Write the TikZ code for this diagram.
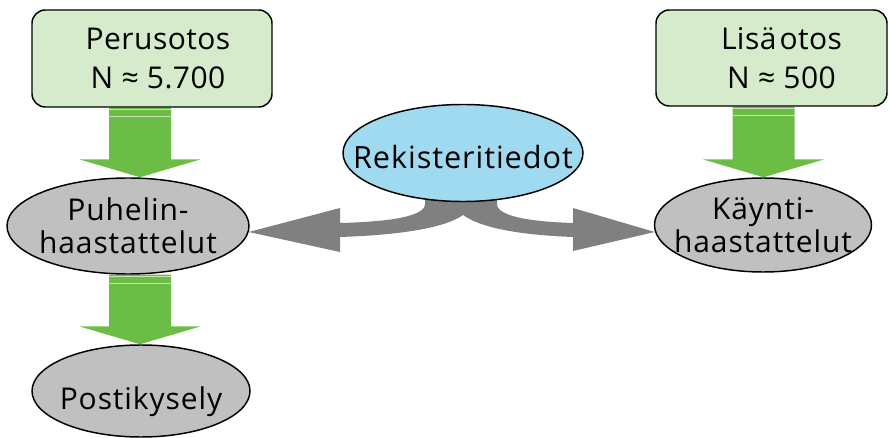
\documentclass[tikz,border=0pt]{standalone}
\usepackage{fontspec}
\setmainfont{Open Sans}
\usetikzlibrary{shapes.geometric,calc,backgrounds}
\definecolor{boxgreen}{RGB}{214,234,204}
\definecolor{arrgreen}{RGB}{108,189,69}
\definecolor{ellblue}{RGB}{160,218,240}
\definecolor{ellgray}{RGB}{192,192,192}
\definecolor{arrgray}{RGB}{128,128,128}
\newcommand\greenarrow[2]{%
  \fill[greenarrowfill] ($(#1)+(-31,0)$) -- ($(#2)+(-31,-18)$) -- ($(#2)+(-61,-18)$) -- (#2)
    -- ($(#2)+(61,-18)$) -- ($(#2)+(31,-18)$) -- ($(#1)+(31,0)$) -- cycle;
  \draw[sheen] ($(#1)+(-31,2)$) -- ($(#1)+(31,2)$);
  \draw[sheen] ($(#1)+(-31,9)$) -- ($(#1)+(31,9)$);
}
\newcommand\lowline[2]{\smash{\raisebox{-#1}{#2}}}
\begin{document}
\begin{tikzpicture}[x=0.75pt,y=-0.75pt,
  samplebox/.style={draw=black,line width=1.1pt,fill=boxgreen,rounded corners=10pt,
    align=center,font=\fontsize{22.5}{29.25}\selectfont\addfontfeature{LetterSpace=1.5},inner sep=0pt},
  oval/.style={ellipse,draw=black,line width=1.1pt,align=center,inner xsep=-22pt,inner ysep=-8pt,
    font=\fontsize{22.5}{24.75}\selectfont\addfontfeature{LetterSpace=3}},
  grayoval/.style={oval,fill=ellgray},
  blueoval/.style={oval,fill=ellblue,font=\fontsize{23}{26}\selectfont\addfontfeature{LetterSpace=3}},
  greenarrowfill/.style={fill=arrgreen},
  grayarrowfill/.style={fill=arrgray},
  sheen/.style={draw=white,opacity=0.6,line width=0.5pt}
]
\useasboundingbox (0,0) rectangle (889,438);

\node[samplebox,minimum width=180pt,minimum height=72.75pt] (peru) at (152,58.5)
  {\hspace*{9pt}Perusotos\\\hspace*{9pt}N ≈ 5.700};
\node[samplebox,minimum width=173.25pt,minimum height=72pt] (lisa) at (771.5,58)
  {\hspace*{15pt}Lisä\hspace{0.1em}otos\\\hspace*{15pt}N ≈ 500};
\node[blueoval,minimum width=180pt,minimum height=72.75pt] (reki) at (463,153)
  {\lowline{12pt}{Rekisteritiedot}};
\node[grayoval,minimum width=181.5pt,minimum height=72pt] (puh) at (128,226) {Puhelin-\\haastattelut};
\node[grayoval,minimum width=162.75pt,minimum height=70.5pt] (kay) at (763,225) {Käynti-\\haastattelut};
\node[grayoval,minimum width=163.5pt,minimum height=69pt] (posti) at (141,391)
  {\lowline{14pt}{Postikysely}};

\coordinate (c1) at (140,0);
\coordinate (c3) at (763.5,0);
\coordinate (t1) at (c1 |- peru.south);
\coordinate (h1) at (c1 |- puh.north);
\coordinate (t2) at (c1 |- puh.south);
\coordinate (h2) at (c1 |- posti.north);
\coordinate (t3) at (c3 |- lisa.south);
\coordinate (h3) at (c3 |- kay.north);
\coordinate (ltip) at ($(puh.east)+(-1,6)$);
\coordinate (rtip) at ($(kay.west)+(1,7)$);

\begin{pgfonlayer}{background}
  \greenarrow{t1}{h1}
  \greenarrow{t2}{h2}
  \greenarrow{t3}{h3}
  \fill[grayarrowfill] (425,190) -- (425,204) .. controls (425,218) and (380,222) .. (340,223)
    -- (340,208) -- (ltip) -- (340,252) -- (340,237)
    .. controls (400,235) and (445,228) .. (463,215)
    .. controls (481,228) and (520,235) .. (573,237)
    -- (573,251) -- (rtip) -- (573,208) -- (573,223)
    .. controls (540,222) and (497,218) .. (497,204) -- (497,190) -- cycle;
\end{pgfonlayer}
\end{tikzpicture}
\end{document}
